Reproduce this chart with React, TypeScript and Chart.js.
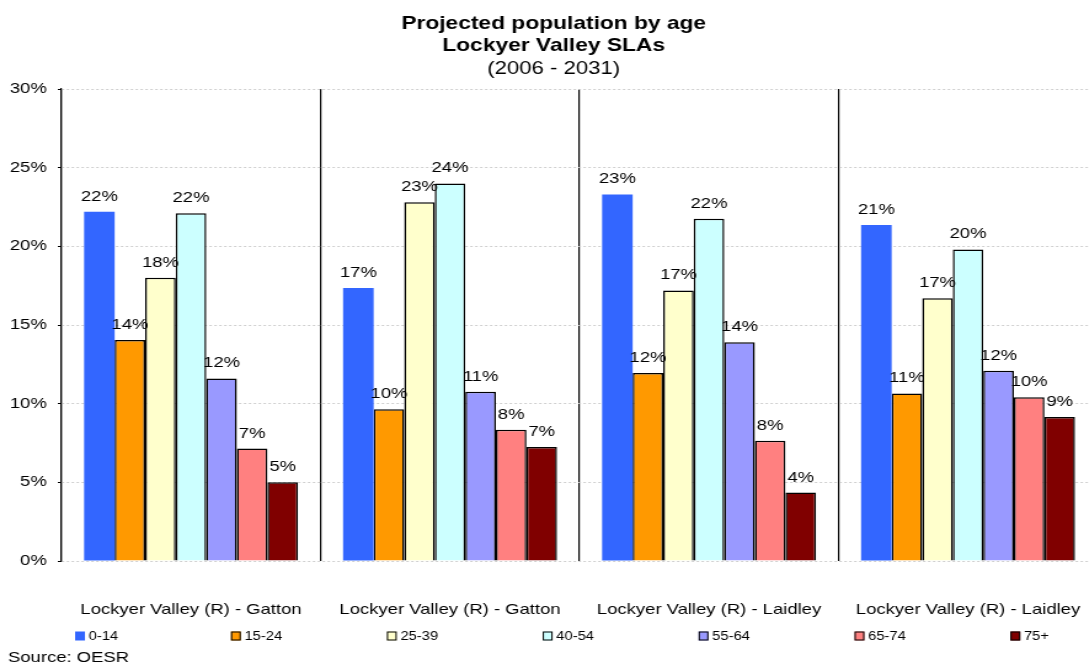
import React, { useEffect, useRef } from 'react';
import { Chart, registerables } from 'chart.js';

Chart.register(...registerables);

// ---------- data ----------
const categories = [
  'Lockyer Valley (R) - Gatton',
  'Lockyer Valley (R) - Gatton',
  'Lockyer Valley (R) - Laidley',
  'Lockyer Valley (R) - Laidley',
];
const ageGroups = ['0-14', '15-24', '25-39', '40-54', '55-64', '65-74', '75+'];
const age0_14 = [22.2, 17.35, 23.3, 21.35];
const age15_24 = [14.05, 9.65, 11.95, 10.65];
const age25_39 = [18.0, 22.8, 17.2, 16.7];
const age40_54 = [22.1, 24.0, 21.75, 19.8];
const age55_64 = [11.6, 10.75, 13.9, 12.1];
const age65_74 = [7.15, 8.35, 7.65, 10.4];
const age75plus = [5.0, 7.25, 4.35, 9.15];
const seriesValues = [age0_14, age15_24, age25_39, age40_54, age55_64, age65_74, age75plus];
const seriesColors = ['#3366FF', '#FF9900', '#FFFFCC', '#CCFFFF', '#9999FF', '#FF8080', '#800000'];
const seriesBorder = [0, 1.5, 1.5, 1.5, 1.5, 1.5, 1.5];
const yMin = 0;
const yMax = 30;
const yStep = 5;
const titleLines = ['Projected population by age', 'Lockyer Valley SLAs'];
const subtitleText = '(2006 - 2031)';
const sourceText = 'Source: OESR';

const FONT = "'Liberation Sans', Arial, Helvetica, sans-serif";
const NATIVE_W = 894;
const NATIVE_H = 662;
const CSS_W = 1100;

const overlayPlugin = {
  id: 'overlay',
  afterDatasetsDraw(chart: any) {
    const ctx = chart.ctx as CanvasRenderingContext2D;
    ctx.save();
    ctx.font = `15px ${FONT}`;
    ctx.fillStyle = '#000';
    ctx.textAlign = 'center';
    ctx.textBaseline = 'alphabetic';
    chart.data.datasets.forEach((ds: any, di: number) => {
      const meta = chart.getDatasetMeta(di);
      meta.data.forEach((el: any, i: number) => {
        const v = ds.data[i] as number;
        ctx.fillText(`${Math.round(v)}%`, el.x, el.y - 11);
      });
    });
    ctx.restore();
  },
  afterDraw(chart: any) {
    const ctx = chart.ctx as CanvasRenderingContext2D;
    ctx.save();
    // legend
    const startX = 61;
    const stepX = 126.7;
    const boxW = 8;
    const boxH = 9;
    const cy = 636;
    ctx.font = `12px ${FONT}`;
    ctx.textAlign = 'left';
    ctx.textBaseline = 'middle';
    chart.data.datasets.forEach((ds: any, i: number) => {
      const x = startX + i * stepX;
      ctx.fillStyle = ds.backgroundColor;
      ctx.fillRect(x, cy - boxH / 2, boxW, boxH);
      if (ds.borderWidth) {
        ctx.strokeStyle = '#000';
        ctx.lineWidth = 1;
        ctx.strokeRect(x + 0.5, cy - boxH / 2 + 0.5, boxW - 1, boxH - 1);
      }
      ctx.fillStyle = '#000';
      ctx.fillText(ds.label, x + boxW + 3, cy + 0.5);
    });
    // source
    ctx.font = `15px ${FONT}`;
    ctx.textBaseline = 'alphabetic';
    ctx.fillText(sourceText, 6.5, 662);
    ctx.restore();
  },
};

export default function App() {
  const canvasRef = useRef<HTMLCanvasElement | null>(null);

  useEffect(() => {
    if (!canvasRef.current) return;
    Chart.defaults.font.family = FONT;
    Chart.defaults.color = '#000';
    const chart = new Chart(canvasRef.current, {
      type: 'bar',
      data: {
        labels: categories,
        datasets: ageGroups.map((g, i) => ({
          label: g,
          data: seriesValues[i],
          backgroundColor: seriesColors[i],
          borderColor: '#000',
          borderWidth: seriesBorder[i],
          categoryPercentage: 0.826,
          barPercentage: 1.0,
        })),
      },
      options: {
        responsive: false,
        animation: false,
        layout: { padding: { left: 8, right: 2, top: 0, bottom: 43 } },
        plugins: {
          legend: { display: false },
          tooltip: { enabled: false },
          title: {
            display: true,
            text: titleLines,
            color: '#000',
            font: { size: 18.5, weight: 'bold', lineHeight: 1.2 },
            padding: { top: 13, bottom: 0 },
          },
          subtitle: {
            display: true,
            text: subtitleText,
            color: '#000',
            font: { size: 18, weight: 'normal', lineHeight: 1.2 },
            padding: { top: 1, bottom: 9 },
          },
        },
        scales: {
          x: {
            grid: { color: '#000', lineWidth: 1.2, drawTicks: false, offset: true },
            border: { display: false },
            ticks: {
              color: '#000',
              font: { size: 15 },
              padding: 40,
              maxRotation: 0,
              autoSkip: false,
            },
            afterFit: (scale: any) => {
              scale.height = 58;
              scale.paddingLeft = 0;
              scale.paddingRight = 0;
            },
          },
          y: {
            min: yMin,
            max: yMax,
            ticks: {
              stepSize: yStep,
              color: '#000',
              font: { size: 15 },
              padding: 9,
              callback: (v: any) => `${v}%`,
            },
            grid: { color: '#cfcfcf', tickColor: '#000', tickLength: 3, drawTicks: true },
            border: { display: true, color: '#000', width: 1.2, dash: [2, 2] },
            afterFit: (scale: any) => {
              scale.width = 42;
              scale.paddingTop = 0;
              scale.paddingBottom = 0;
            },
          },
        },
      } as any,
      plugins: [overlayPlugin],
    });
    return () => chart.destroy();
  }, []);

  return (
    <div
      style={{
        position: 'fixed',
        left: 0,
        top: 0,
        width: '1089px',
        height: '662px',
        overflow: 'hidden',
        background: '#fff',
      }}
    >
      <canvas
        ref={canvasRef}
        width={NATIVE_W}
        height={NATIVE_H}
        style={{ width: `${CSS_W}px`, height: `${NATIVE_H}px`, display: 'block' }}
      />
    </div>
  );
}
